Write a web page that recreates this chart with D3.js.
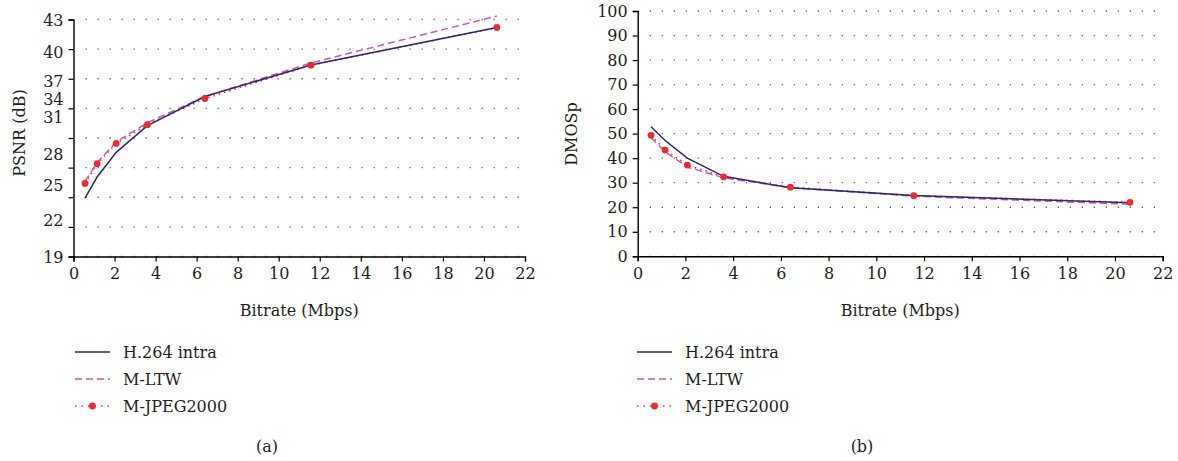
<!DOCTYPE html>
<html><head><meta charset="utf-8">
<script src="https://cdn.jsdelivr.net/npm/d3@7"></script>
<style>
body{margin:0;background:#fff;}
text{font-family:"DejaVu Serif",serif;fill:#231f20;}
</style></head>
<body><svg id="c" width="1178" height="461"></svg>
<script>
// ---- data ----
const bitrate = [0.56, 1.15, 2.08, 3.6, 6.4, 11.57, 20.63];
const psnrH264 = [24.9, 27.05, 29.55, 32.25, 35.2, 38.4, 42.2];
const psnrMLTW = [26.6, 28.5, 30.6, 32.55, 35.2, 38.6, 43.35];
const psnrJ2K  = [26.4, 28.4, 30.45, 32.35, 35.0, 38.37, 42.19];
const dmosH264 = [52.8, 47.2, 40.0, 32.6, 27.9, 24.8, 21.8];
const dmosMLTW = [48.3, 42.6, 36.4, 32.0, 28.0, 24.5, 21.2];
const dmosJ2K  = [49.3, 43.3, 37.2, 32.4, 28.2, 24.7, 22.0];
const xTicks = [0, 2, 4, 6, 8, 10, 12, 14, 16, 18, 20, 22];
const psnrTicks = [19, 22, 25, 28, 31, 34, 37, 40, 43];
const dmosTicks = [0, 10, 20, 30, 40, 50, 60, 70, 80, 90, 100];
const seriesNames = ["H.264 intra", "M-LTW", "M-JPEG2000"];

// label nudges reproducing the original's shifted PSNR tick labels (px)
const psnrLabelNudge = {40: 3, 37: 2, 34: -9.5, 31: -21, 28: -14, 25: -12, 22: -7};

const FONT = "DejaVu Serif", FS = 16;
const colH = "#2a2a6c", colL = "#c35bb4", colJ = "#ee2a2e";
const svg = d3.select("#c");

function panel(opt) {
  const x = d3.scaleLinear().domain([0, 22]).range(opt.xr);
  const y = d3.scaleLinear().domain(opt.yd).range(opt.yr);
  const g = svg.append("g");
  // gridlines
  g.selectAll("line.grid").data(opt.yTicks).join("line")
    .attr("x1", x(0) + 12).attr("x2", x(21.8))
    .attr("y1", d => y(d)).attr("y2", d => y(d))
    .attr("stroke", "#666").attr("stroke-width", 1.3)
    .attr("stroke-dasharray", "1.3,10.7");
  // axes
  const xa = g.append("g").attr("transform", `translate(0,${opt.yr[0]})`)
    .call(d3.axisBottom(x).tickValues(xTicks).tickSize(5).tickPadding(6).tickFormat(d3.format("d")));
  const ya = g.append("g").attr("transform", `translate(${opt.xr[0]},0)`)
    .call(d3.axisLeft(y).tickValues(opt.yTicks).tickSize(5).tickPadding(5).tickFormat(d3.format("d")));
  [xa, ya].forEach(a => {
    a.attr("font-family", FONT).attr("font-size", FS);
    a.select(".domain").attr("stroke", "#000").attr("stroke-width", 1.4);
    a.selectAll(".tick line").attr("stroke", "#000").attr("stroke-width", 1.2);
    a.selectAll("text").attr("fill", "#231f20");
  });
  if (opt.nudge) ya.selectAll(".tick text").attr("dy", d => (opt.nudge[d] || 0) + 5.5 + "px");
  // axis titles
  g.append("text").attr("x", (opt.xr[0] + opt.xr[1]) / 2).attr("y", 316)
    .attr("text-anchor", "middle").attr("font-size", FS).text("Bitrate (Mbps)");
  g.append("text").attr("transform", `translate(${opt.yTitleX},${opt.yTitleY}) rotate(-90)`)
    .attr("text-anchor", "middle").attr("font-size", FS).text(opt.yTitle);
  // series
  const line = d3.line().x((d, i) => x(bitrate[i])).y(d => y(d));
  g.append("path").datum(opt.j2k).attr("d", line).attr("fill", "none")
    .attr("stroke", colJ).attr("stroke-width", 1.6).attr("stroke-dasharray", "1.5,4");
  g.append("path").datum(opt.mltw).attr("d", line).attr("fill", "none")
    .attr("stroke", colL).attr("stroke-width", 1.5).attr("stroke-dasharray", "7,4");
  g.append("path").datum(opt.h264).attr("d", line).attr("fill", "none")
    .attr("stroke", colH).attr("stroke-width", 1.5);
  g.selectAll("circle.m").data(opt.j2k).join("circle")
    .attr("cx", (d, i) => x(bitrate[i])).attr("cy", d => y(d)).attr("r", 3.4).attr("fill", colJ);
  // legend
  const lx = opt.legX, rows = [352, 379, 406];
  const styles = [
    {c: colH, da: null, w: 1.5},
    {c: colL, da: "7,4", w: 1.5},
    {c: colJ, da: "1.5,5", w: 1.6}
  ];
  seriesNames.forEach((n, i) => {
    g.append("line").attr("x1", lx).attr("x2", lx + 35).attr("y1", rows[i]).attr("y2", rows[i])
      .attr("stroke", styles[i].c).attr("stroke-width", styles[i].w)
      .attr("stroke-dasharray", styles[i].da);
    if (i === 2) g.append("circle").attr("cx", lx + 17.5).attr("cy", rows[i]).attr("r", 3.4).attr("fill", colJ);
    g.append("text").attr("x", lx + 48).attr("y", rows[i] + 6).attr("font-size", FS).text(n);
  });
  g.append("text").attr("x", opt.capX).attr("y", 452).attr("text-anchor", "middle")
    .attr("font-size", FS).text(opt.cap);
}

panel({xr: [73.5, 525], yd: [19, 43], yr: [256.5, 19.5], yTicks: psnrTicks, nudge: psnrLabelNudge,
  h264: psnrH264, mltw: psnrMLTW, j2k: psnrJ2K, yTitle: "PSNR (dB)", yTitleX: 25, yTitleY: 133,
  legX: 75, capX: 267, cap: "(a)"});
panel({xr: [637.7, 1162.7], yd: [0, 100], yr: [256.3, 11], yTicks: dmosTicks,
  h264: dmosH264, mltw: dmosMLTW, j2k: dmosJ2K, yTitle: "DMOSp", yTitleX: 577, yTitleY: 134,
  legX: 637, capX: 862, cap: "(b)"});
</script></body></html>
